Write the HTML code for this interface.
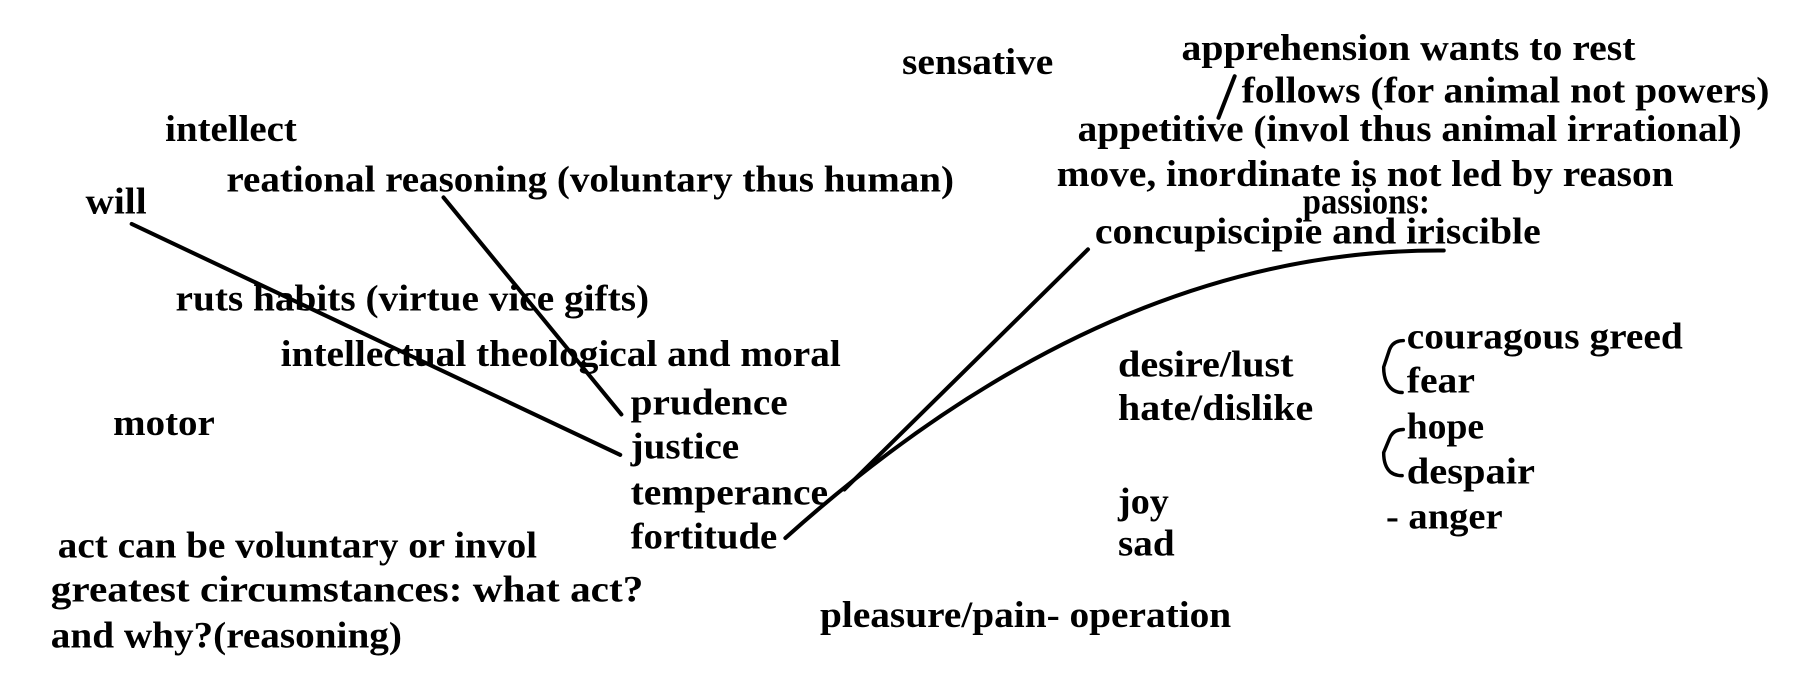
<!DOCTYPE html>
<html><head><style>html,body{margin:0;padding:0;background:#fff;}svg{display:block}</style></head>
<body>
<svg width="1811" height="695" viewBox="0 0 1568 602" preserveAspectRatio="none" xmlns="http://www.w3.org/2000/svg">
<rect width="1568" height="602" fill="#fff"/>
<g font-family="'Liberation Serif', serif" font-weight="bold" font-size="32" fill="#000">
<text x="781" y="64" textLength="131" lengthAdjust="spacingAndGlyphs">sensative</text>
<text x="1023" y="52" textLength="393" lengthAdjust="spacingAndGlyphs">apprehension wants to rest</text>
<text x="1075" y="89" textLength="457" lengthAdjust="spacingAndGlyphs">follows (for animal not powers)</text>
<text x="933" y="122" textLength="575" lengthAdjust="spacingAndGlyphs">appetitive (invol thus animal irrational)</text>
<text x="915" y="161" textLength="534" lengthAdjust="spacingAndGlyphs">move, inordinate is not led by reason</text>
<text x="1128" y="185" textLength="110" lengthAdjust="spacingAndGlyphs">passions:</text>
<text x="948" y="211" textLength="386" lengthAdjust="spacingAndGlyphs">concupiscipie and iriscible</text>
<text x="143" y="122" textLength="114" lengthAdjust="spacingAndGlyphs">intellect</text>
<text x="196" y="166" textLength="630" lengthAdjust="spacingAndGlyphs">reational reasoning (voluntary thus human)</text>
<text x="74" y="185" textLength="53" lengthAdjust="spacingAndGlyphs">will</text>
<text x="152" y="269" textLength="410" lengthAdjust="spacingAndGlyphs">ruts habits (virtue vice gifts)</text>
<text x="243" y="317" textLength="485" lengthAdjust="spacingAndGlyphs">intellectual theological and moral</text>
<text x="98" y="377" textLength="88" lengthAdjust="spacingAndGlyphs">motor</text>
<text x="546" y="359" textLength="136" lengthAdjust="spacingAndGlyphs">prudence</text>
<text x="546" y="397" textLength="94" lengthAdjust="spacingAndGlyphs">justice</text>
<text x="546" y="437" textLength="171" lengthAdjust="spacingAndGlyphs">temperance</text>
<text x="546" y="475" textLength="127" lengthAdjust="spacingAndGlyphs">fortitude</text>
<text x="50" y="483" textLength="415" lengthAdjust="spacingAndGlyphs">act can be voluntary or invol</text>
<text x="44" y="521" textLength="513" lengthAdjust="spacingAndGlyphs">greatest circumstances: what act?</text>
<text x="44" y="561" textLength="304" lengthAdjust="spacingAndGlyphs">and why?(reasoning)</text>
<text x="710" y="543" textLength="356" lengthAdjust="spacingAndGlyphs">pleasure/pain- operation</text>
<text x="968" y="326" textLength="152" lengthAdjust="spacingAndGlyphs">desire/lust</text>
<text x="968" y="364" textLength="169" lengthAdjust="spacingAndGlyphs">hate/dislike</text>
<text x="968" y="445" textLength="44" lengthAdjust="spacingAndGlyphs">joy</text>
<text x="968" y="481" textLength="49" lengthAdjust="spacingAndGlyphs">sad</text>
<text x="1218" y="302" textLength="239" lengthAdjust="spacingAndGlyphs">couragous greed</text>
<text x="1218" y="340" textLength="59" lengthAdjust="spacingAndGlyphs">fear</text>
<text x="1218" y="380" textLength="67" lengthAdjust="spacingAndGlyphs">hope</text>
<text x="1218" y="419" textLength="111" lengthAdjust="spacingAndGlyphs">despair</text>
<text x="1200" y="458" textLength="101" lengthAdjust="spacingAndGlyphs">- anger</text>
</g>
<g stroke="#000" stroke-width="3.5" fill="none" stroke-linecap="round">
<line x1="114" y1="194" x2="537" y2="394"/>
<line x1="384" y1="171" x2="538" y2="359"/>
<line x1="731" y1="424" x2="942" y2="216"/>
<path d="M680 466 Q960 215 1250 217"/>
<line x1="1069" y1="66" x2="1055" y2="102"/>
<path d="M1215 295 Q1206 295 1203 303 L1198 318 Q1198 330 1204 336 Q1208 340 1214 340" stroke-width="3"/>
<path d="M1215 372 Q1206 372 1203 380 L1198 392 Q1198 404 1204 409 Q1208 412 1214 412" stroke-width="3"/>
</g>
</svg>
</body></html>
